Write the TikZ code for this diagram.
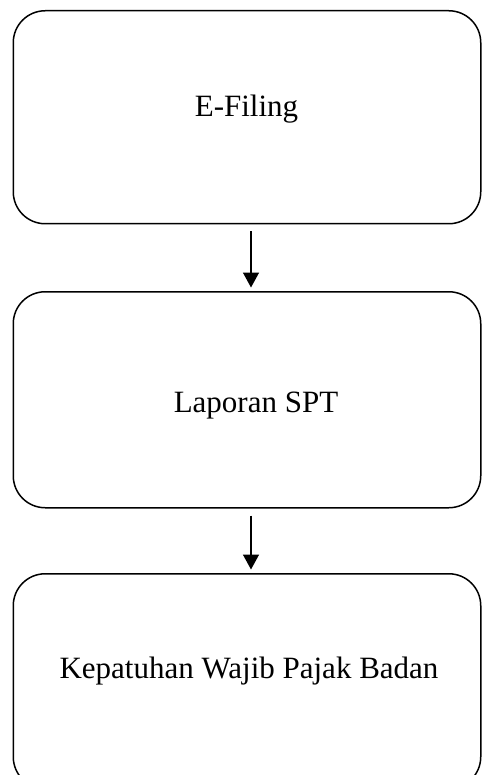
\documentclass[tikz,border=0pt]{standalone}
\usepackage{fontspec}
\setmainfont{Liberation Serif}
\usetikzlibrary{arrows.meta}
\begin{document}
\begin{tikzpicture}[x=1pt,y=-1pt,
  stepbox/.style={draw=black, line width=1.5pt, rounded corners=32pt, minimum width=467.5pt, minimum height=213pt, inner sep=0pt, anchor=north west},
  lbl/.style={font=\fontsize{31}{36}\selectfont, anchor=base, inner sep=0pt},
  arr/.style={line width=1.5pt, -{Triangle[length=15pt,width=16pt]}}]
\useasboundingbox (0,0) rectangle (482,775);
\node[stepbox] (b1) at (12.5,10) {};
\node[stepbox, minimum height=216pt] (b2) at (12.5,291) {};
\node[stepbox, minimum height=215pt] (b3) at (12.5,573) {};
\node[lbl] (t1) at (246.5,117) {E-Filing};
\node[lbl] (t2) at (256,412) {Laporan SPT};
\node[lbl] (t3) at (249,678) {Kepatuhan Wajib Pajak Badan};
\draw[arr] ([xshift=4pt,yshift=-7pt]b1.south) -- ([xshift=4pt,yshift=3.5pt]b2.north);
\draw[arr] ([xshift=4pt,yshift=-7pt]b2.south) -- ([xshift=4pt,yshift=3.5pt]b3.north);
\end{tikzpicture}
\end{document}
